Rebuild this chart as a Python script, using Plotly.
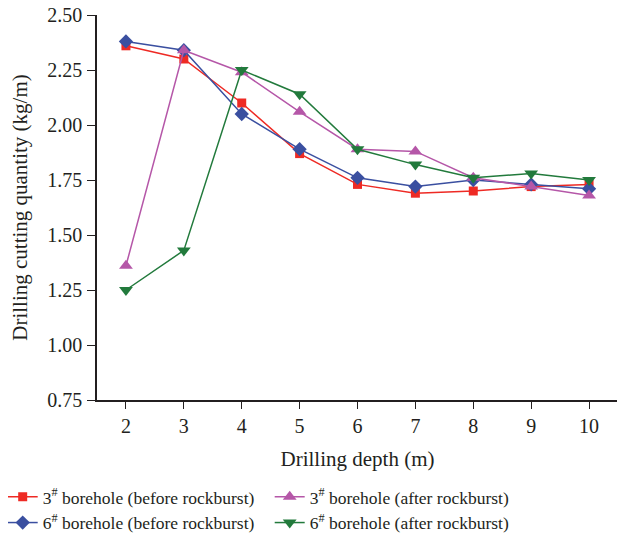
import plotly.graph_objects as go

depth = [2, 3, 4, 5, 6, 7, 8, 9, 10]
b3_before = [2.36, 2.30, 2.10, 1.87, 1.73, 1.69, 1.70, 1.72, 1.73]
b6_before = [2.38, 2.34, 2.05, 1.89, 1.76, 1.72, 1.75, 1.73, 1.71]
b3_after = [1.36, 2.34, 2.24, 2.06, 1.89, 1.88, 1.76, 1.72, 1.68]
b6_after = [1.25, 1.43, 2.25, 2.14, 1.89, 1.82, 1.76, 1.78, 1.75]

y_ticks = [0.75, 1.00, 1.25, 1.50, 1.75, 2.00, 2.25, 2.50]
x_ticks = [2, 3, 4, 5, 6, 7, 8, 9, 10]

FONT = "Liberation Serif"

series = [
    ("3<sup>#</sup> borehole (before rockburst)", b3_before, "#ee2a24", "square", 9, 1),
    ("6<sup>#</sup> borehole (before rockburst)", b6_before, "#3a4fa0", "diamond", 11, 3),
    ("3<sup>#</sup> borehole (after rockburst)", b3_after, "#b557a8", "triangle-up", 12, 2),
    ("6<sup>#</sup> borehole (after rockburst)", b6_after, "#227a3c", "triangle-down", 12, 4),
]

fig = go.Figure()
for name, vals, color, sym, size, rank in series:
    fig.add_trace(go.Scatter(
        x=depth, y=vals, name=name, mode="lines+markers",
        line=dict(color=color, width=1.5),
        marker=dict(symbol=sym, size=size, color=color),
        legendrank=rank,
    ))

fig.update_layout(
    width=625, height=537,
    margin=dict(l=89, r=15, t=7, b=145, autoexpand=False),
    plot_bgcolor="white", paper_bgcolor="white",
    font=dict(family=FONT, size=18, color="#231f20"),
    xaxis=dict(
        range=[1.5, 10.5], tickvals=x_ticks, ticks="outside", ticklen=7,
        tickcolor="#231f20", showline=True, linecolor="#231f20", linewidth=1.5,
        showgrid=False, zeroline=False,
        title=dict(text="Drilling depth (m)", standoff=16, font=dict(size=21)),
        tickfont=dict(size=20),
    ),
    yaxis=dict(
        range=[0.75, 2.5], tickvals=y_ticks, tickformat=".2f", ticks="outside", ticklen=8,
        tickcolor="#231f20", showline=True, linecolor="#231f20", linewidth=1.5,
        showgrid=False, zeroline=False, ticklabelstandoff=1, ticklabeloverflow="allow",
        title=dict(text="Drilling cutting quantity (kg/m)", standoff=16, font=dict(size=21)),
        tickfont=dict(size=20),
    ),
    legend=dict(
        orientation="h", xref="paper", yref="paper",
        x=-0.181, xanchor="left", y=-0.205, yanchor="top",
        entrywidth=222, entrywidthmode="pixels",
        font=dict(size=17.5), itemwidth=30, tracegroupgap=0,
    ),
    showlegend=True,
)

fig.write_html("out.html")
